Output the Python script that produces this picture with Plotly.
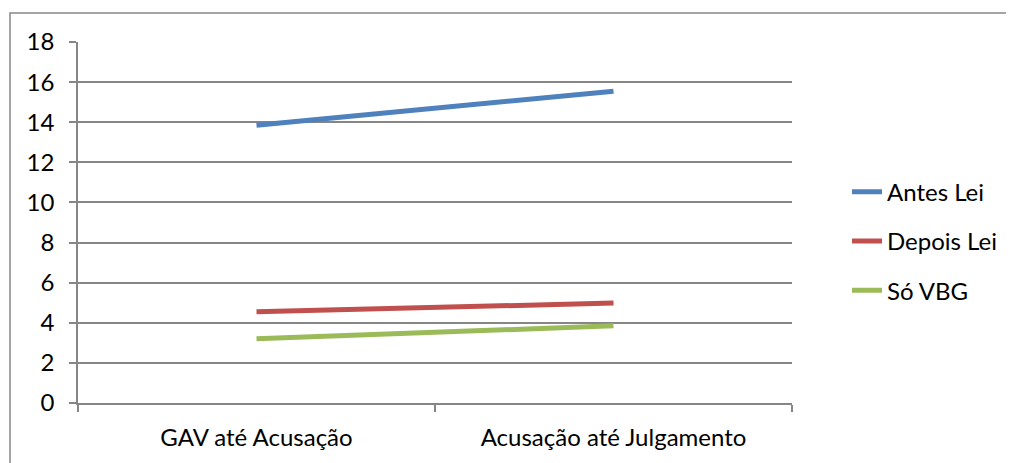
import plotly.graph_objects as go

categories = ["GAV até Acusação", "Acusação até Julgamento"]
series_names = ["Antes Lei", "Depois Lei", "Só VBG"]
antes_lei = [13.85, 15.55]
depois_lei = [4.55, 4.98]
so_vbg = [3.2, 3.85]
colors = ["#4F81BD", "#C0504D", "#9BBB59"]

fig = go.Figure()
for i, (name, vals) in enumerate(zip(series_names, [antes_lei, depois_lei, so_vbg])):
    fig.add_trace(go.Scatter(x=categories, y=vals, mode="lines", name=name,
                             legendgroup=name,
                             line=dict(color=colors[i], width=5)))

# page is offset by 8px (body margin), so figure is drawn smaller and shifted
OFF = 8
W, H = 1014 - OFF, 463 - OFF
L, R, T, B = 78 - OFF, 792 - OFF, 42 - OFF, 403 - OFF
pw, ph = R - L, B - T

fig.update_layout(
    width=W, height=H,
    margin=dict(l=L, r=W - R, t=T, b=H - B, pad=0),
    paper_bgcolor="white", plot_bgcolor="white",
    font=dict(family="Lato, Calibri, sans-serif", size=24, color="black"),
    showlegend=True,
    legend=dict(x=(847 - OFF - L) / pw, y=0.448, xanchor="left", yanchor="middle",
                traceorder="grouped", tracegroupgap=15,
                font=dict(size=24), bgcolor="rgba(0,0,0,0)"),
    xaxis=dict(type="category", tickson="boundaries", ticks="outside",
               ticklen=7, tickcolor="#868686", tickwidth=1.5,
               ticklabelstandoff=12,
               showline=True, linecolor="#868686", linewidth=1.5,
               showgrid=False, zeroline=False, range=[-0.5, 1.5],
               fixedrange=True),
    yaxis=dict(range=[0, 18], dtick=2, tick0=0, ticks="outside", ticklen=7,
               tickcolor="#868686", tickwidth=1.5,
               ticklabelstandoff=10,
               showline=True, linecolor="#868686", linewidth=1.5,
               showgrid=True, gridcolor="#868686", gridwidth=1.5,
               zeroline=False, fixedrange=True),
)

# outer chart frame
fig.add_shape(type="rect", xref="paper", yref="paper",
              x0=(10 - OFF - L) / pw, y0=(B - (13 - OFF)) / ph,
              x1=(W + 20 - L) / pw, y1=(B - (H + 20)) / ph,
              line=dict(color="#868686", width=1.5), layer="below")

fig.write_html("out.html")
